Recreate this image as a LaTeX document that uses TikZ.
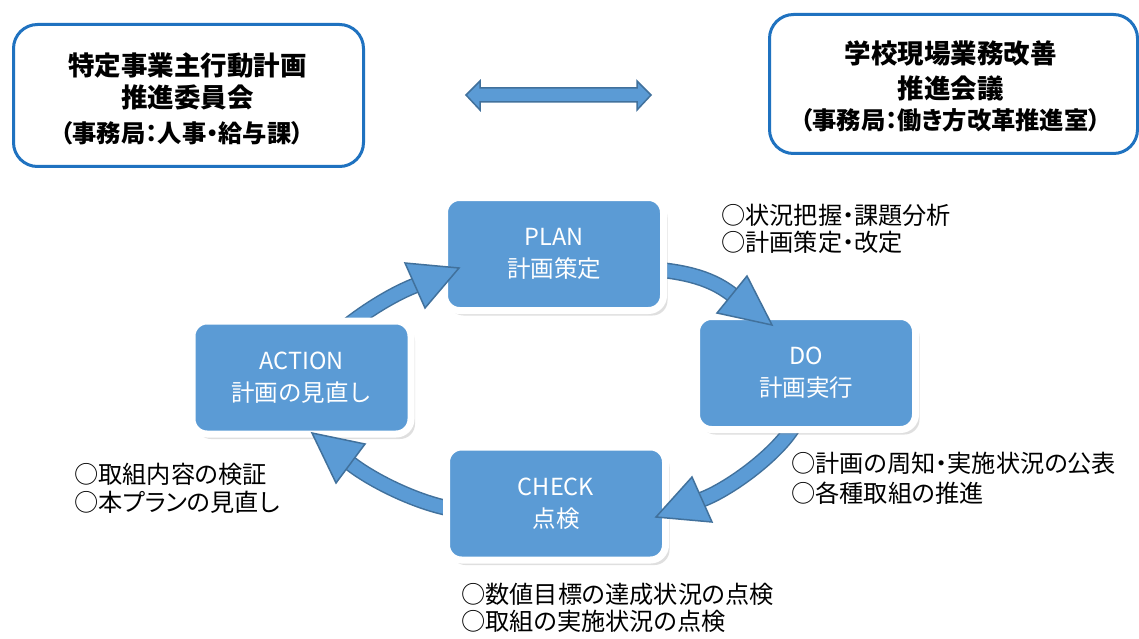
\documentclass[tikz,border=0pt]{standalone}
\usepackage{fontspec}
\newfontfamily\jp{Noto Sans CJK JP}
\newfontfamily\jpp[RawFeature=+palt]{Noto Sans CJK JP}
\usetikzlibrary{shadows}
\definecolor{boxblue}{HTML}{5B9BD5}
\definecolor{arrline}{HTML}{41719C}
\definecolor{frameblue}{HTML}{1F72C0}
\begin{document}
\begin{tikzpicture}[x=1pt,y=-1pt,
  frame/.style={draw=frameblue, line width=3pt, rounded corners=24pt, fill=white, inner sep=0pt},
  cyclebox/.style={draw=white, line width=7pt, fill=boxblue, rounded corners=15pt,
    minimum width=219pt, minimum height=113pt, inner sep=0pt,
    drop shadow={shadow xshift=4pt, shadow yshift=-5pt, opacity=0.25}},
  boxtext/.style={text=white, font=\jp\fontsize{23.5}{32}\selectfont, align=center},
  titletext/.style={font=\jp\bfseries\fontsize{26.5}{30}\selectfont, text=black, inner sep=0pt},
  subtext/.style={font=\jpp\bfseries\fontsize{24.3}{28}\selectfont, text=black, inner sep=0pt},
  note/.style={anchor=west, align=left, inner sep=0pt},
  shaftout/.style={draw=arrline, line width=16pt},
  shaftin/.style={draw=boxblue, line width=13pt},
  head/.style={fill=boxblue, draw=arrline, line width=1.5pt, line join=miter}
]
\useasboundingbox[fill=white] (0,0) rectangle (1139,639);

% top frames
\node[frame, minimum width=350pt, minimum height=142pt] (tl) at (188.5,95.5) {};
\node[titletext] (tl1) at (187.5,65) {特定事業主行動計画};
\node[titletext] (tl2) at (187.5,97) {推進委員会};
\node[subtext] (tl3) at (182,133) {（事務局：人事・給与課）};

\node[frame, minimum width=368pt, minimum height=139pt] (tr) at (953.5,84) {};
\node[titletext] (tr1) at (950.5,53) {学校現場業務改善};
\node[titletext] (tr2) at (950.5,88) {推進会議};
\node[subtext] (tr3) at (950.5,120) {（事務局：働き方改革推進室）};

% double arrow between the committees
\draw[head] (466,95) -- (480,81) -- (480,88) -- (637,88) -- (637,81) -- (651,95)
  -- (637,110) -- (637,102) -- (480,102) -- (480,110) -- cycle;

% arrow coordinates
\coordinate (s1) at (640,268);  \coordinate (h1) at (732,294.5);
\coordinate (s2) at (800,410);  \coordinate (h2) at (702,499.5);
\coordinate (s3) at (470,511);  \coordinate (h3) at (350.5,463.5);
\coordinate (s4) at (340,332);  \coordinate (h4) at (415,285.5);

% shafts
\foreach \st in {shaftout,shaftin}{
  \draw[\st] (s1) .. controls (680,271) and (708,276) .. (h1);
  \draw[\st] (s2) .. controls (796,440) and (735,487) .. (h2);
  \draw[\st] (s3) .. controls (430,510) and (374,482) .. (h3);
  \draw[\st] (s4) .. controls (356,318) and (387,296.6) .. (h4);
}

% cycle boxes
\node[cyclebox] (plan) at (554,254) {};
\node[boxtext] (planT) at (plan.center) {PLAN\\計画策定};
\node[cyclebox] (do) at (806,373) {};
\node[boxtext] (doT) at (do.center) {DO\\計画実行};
\node[cyclebox] (check) at (556,503.5) {};
\node[boxtext] (checkT) at (check.center) {CHECK\\点検};
\node[cyclebox] (action) at (301.5,377.5) {};
\node[boxtext] (actionT) at (action.center) {ACTION\\計画の見直し};

% heads
\draw[head] (717,313) -- (772,325) -- (747,276) -- cycle;
\draw[head] (692,477) -- (656,517) -- (712,522) -- cycle;
\draw[head] (365,444) -- (312,433) -- (336,483) -- cycle;
\draw[head] (405,263) -- (459,268) -- (425,308) -- cycle;

% notes
\node[note, font=\jpp\fontsize{24.2}{27}\selectfont] (n1) at (721,228.5) {○状況把握・課題分析\\○計画策定・改定};
\node[note, font=\jpp\fontsize{24.2}{30}\selectfont] (n2) at (791,478.5) {○計画の周知・実施状況の公表\\○各種取組の推進};
\node[note, font=\jpp\fontsize{24.2}{28}\selectfont] (n3) at (74,488.5) {○取組内容の検証\\○本プランの見直し};
\node[note, font=\jpp\fontsize{24.2}{27.5}\selectfont] (n4) at (461,608) {○数値目標の達成状況の点検\\○取組の実施状況の点検};
\end{tikzpicture}
\end{document}
